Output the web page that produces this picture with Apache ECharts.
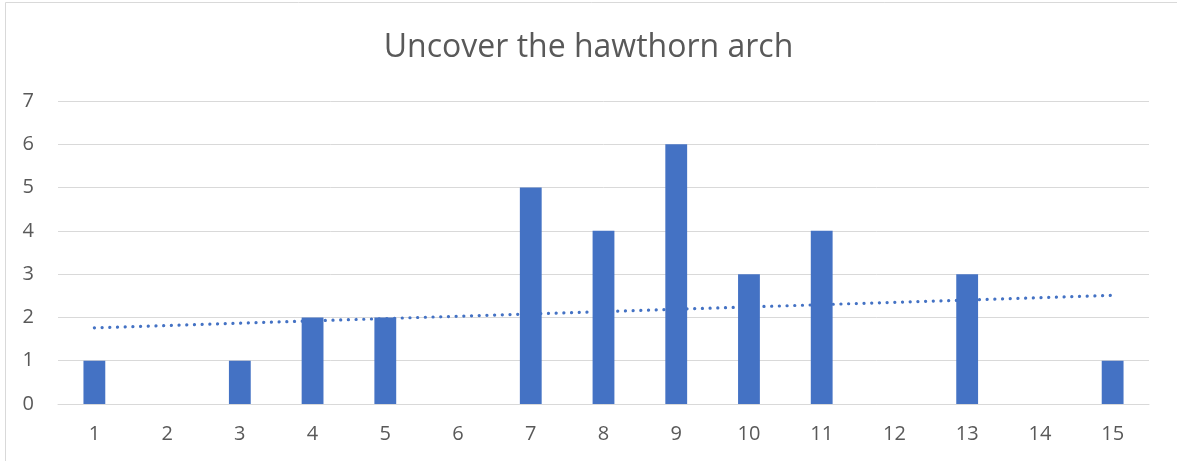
<!DOCTYPE html>
<html>
<head>
<meta charset="utf-8">
<script src="https://cdn.jsdelivr.net/npm/echarts@6/dist/echarts.min.js"></script>
<style>
html,body{margin:0;padding:0;background:#fff;}
#c{width:1177px;height:461px;}
</style>
</head>
<body>
<div id="c"></div>
<script>
const titleText = "Uncover the hawthorn arch";
const categories = ["1","2","3","4","5","6","7","8","9","10","11","12","13","14","15"];
const values = [1,0,1,2,2,0,5,4,6,3,4,0,3,0,1];
const trendStart = 1.76;
const trendEnd = 2.51;
const yTicks = [0,1,2,3,4,5,6,7];

const trendData = categories.map((c, i) => i === 0 ? trendStart : (i === categories.length - 1 ? trendEnd : null));

const chart = echarts.init(document.getElementById('c'), null, {renderer: 'canvas'});
const font = "'Open Sans', 'Liberation Sans', sans-serif";
chart.setOption({
  animation: false,
  backgroundColor: '#fff',
  graphic: [{
    type: 'rect',
    shape: {x: 5.5, y: 2.5, width: 1300, height: 600},
    style: {fill: 'none', stroke: '#d9d9d9', lineWidth: 1},
    silent: true
  }],
  title: {
    text: titleText,
    left: 'center',
    top: 27,
    textStyle: {fontFamily: font, fontSize: 32, fontWeight: 'normal', color: '#595959'}
  },
  grid: {left: 58, right: 28, top: 101, bottom: 57, containLabel: false},
  xAxis: {
    type: 'category',
    data: categories,
    boundaryGap: true,
    axisLine: {show: true, lineStyle: {color: '#d9d9d9', width: 1}},
    axisTick: {show: false},
    axisLabel: {fontFamily: font, fontSize: 20, color: '#595959', margin: 20}
  },
  yAxis: {
    type: 'value',
    min: yTicks[0],
    max: yTicks[yTicks.length - 1],
    interval: 1,
    axisLine: {show: false},
    axisTick: {show: false},
    splitLine: {lineStyle: {color: '#d9d9d9', width: 1}},
    axisLabel: {fontFamily: font, fontSize: 20, color: '#595959', margin: 24}
  },
  series: [{
    type: 'bar',
    data: values,
    barWidth: '30%',
    itemStyle: {color: '#4472C4'},
    z: 3
  }, {
    type: 'line',
    data: trendData,
    connectNulls: true,
    symbol: 'none',
    lineStyle: {color: '#4472C4', width: 3.2, type: [0.1, 7.6], cap: 'round'},
    z: 2
  }]
});
</script>
</body>
</html>
